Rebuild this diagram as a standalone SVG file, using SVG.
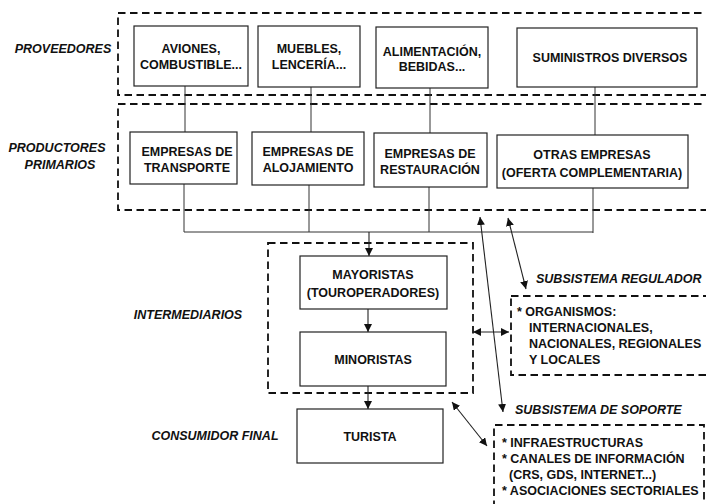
<svg xmlns="http://www.w3.org/2000/svg" width="706" height="504" viewBox="0 0 706 504">
<defs>
<marker id="ah" viewBox="0 0 10 10" refX="10" refY="5" markerWidth="8" markerHeight="8" markerUnits="userSpaceOnUse" orient="auto-start-reverse">
<path d="M0,0 L10,5 L0,10 z" fill="#111"/>
</marker>
<style>
.box{fill:#fff;stroke:#222;stroke-width:1.2}
.dash{fill:none;stroke:#111;stroke-width:1.8;stroke-dasharray:7.5 4.5}
.ln{fill:none;stroke:#333;stroke-width:1}
.arr{fill:none;stroke:#222;stroke-width:1.1;marker-end:url(#ah)}
.dbl{fill:none;stroke:#222;stroke-width:1.1;marker-end:url(#ah);marker-start:url(#ah)}
text{font-family:"Liberation Sans",Arial,sans-serif;font-size:12.5px;font-weight:bold;fill:#111}
.c{text-anchor:middle}
.lbl{font-style:italic}
</style>
</defs>
<rect width="706" height="504" fill="#fff"/>

<g id="groups">
<rect class="dash" x="118" y="13" width="620" height="82"/>
<rect class="dash" x="118" y="104" width="620" height="106"/>
<rect class="dash" x="268" y="243" width="205" height="150"/>
<rect class="dash" x="511" y="296" width="220" height="79"/>
<path class="dash" d="M494,520 V425 H704 V520"/>
</g>

<g id="labels">
<text class="lbl c" x="63" y="53">PROVEEDORES</text>
<text class="lbl c" x="57" y="152">PRODUCTORES</text>
<text class="lbl c" x="60" y="169">PRIMARIOS</text>
<text class="lbl c" x="188" y="319">INTERMEDIARIOS</text>
<text class="lbl c" x="215" y="440">CONSUMIDOR FINAL</text>
<text class="lbl" x="536" y="283">SUBSISTEMA REGULADOR</text>
<text class="lbl" x="515" y="414">SUBSISTEMA DE SOPORTE</text>
</g>

<g id="connectors">
<path class="ln" d="M185,86 V132 M311,87 V132 M430,88 V133 M595,87 V135"/>
<path class="ln" d="M184,184 V232 M309,185 V232 M429,187 V232 M593,188 V233 M184,232 H593"/>
<path class="arr" d="M369,232 V256"/>
<path class="arr" d="M368,309 V332"/>
<path class="arr" d="M368,386 V409"/>
<path class="dbl" d="M452,402 L487,446"/>
<path class="dbl" d="M473,332 L509,332"/>
<path class="dbl" d="M508,218 L526,289"/>
<path class="dbl" d="M480,217 L503,412"/>
</g>

<g id="n-aviones">
<rect class="box" x="134" y="26" width="114" height="60"/>
<text class="c" x="191" y="53">AVIONES,</text>
<text class="c" x="191" y="69">COMBUSTIBLE...</text>
</g>
<g id="n-muebles">
<rect class="box" x="258" y="26" width="102" height="61"/>
<text class="c" x="309" y="53">MUEBLES,</text>
<text class="c" x="309" y="69">LENCERÍA...</text>
</g>
<g id="n-alimentacion">
<rect class="box" x="376" y="27" width="112" height="61"/>
<text class="c" x="432" y="56">ALIMENTACIÓN,</text>
<text class="c" x="432" y="71">BEBIDAS...</text>
</g>
<g id="n-suministros">
<rect class="box" x="517" y="28" width="180" height="59"/>
<text class="c" x="610" y="62">SUMINISTROS DIVERSOS</text>
</g>

<g id="n-transporte">
<rect class="box" x="130" y="132" width="107" height="52"/>
<text class="c" x="187" y="156">EMPRESAS DE</text>
<text class="c" x="187" y="172">TRANSPORTE</text>
</g>
<g id="n-alojamiento">
<rect class="box" x="252" y="132" width="112" height="53"/>
<text class="c" x="308" y="156">EMPRESAS DE</text>
<text class="c" x="308" y="172">ALOJAMIENTO</text>
</g>
<g id="n-restauracion">
<rect class="box" x="374" y="133" width="113" height="54"/>
<text class="c" x="430" y="158">EMPRESAS DE</text>
<text class="c" x="430" y="174">RESTAURACIÓN</text>
</g>
<g id="n-otras">
<rect class="box" x="497" y="135" width="191" height="53"/>
<text class="c" x="592" y="159">OTRAS EMPRESAS</text>
<text class="c" x="592" y="177">(OFERTA COMPLEMENTARIA)</text>
</g>

<g id="n-mayoristas">
<rect class="box" x="300" y="256" width="147" height="53"/>
<text class="c" x="373" y="279">MAYORISTAS</text>
<text class="c" x="373" y="297">(TOUROPERADORES)</text>
</g>
<g id="n-minoristas">
<rect class="box" x="300" y="332" width="146" height="54"/>
<text class="c" x="373" y="364">MINORISTAS</text>
</g>
<g id="n-turista">
<rect class="box" x="297" y="409" width="146" height="54"/>
<text class="c" x="370" y="441">TURISTA</text>
</g>

<g id="n-regulador">
<text x="517" y="316">* ORGANISMOS:</text>
<text x="529" y="332">INTERNACIONALES,</text>
<text x="529" y="348">NACIONALES, REGIONALES</text>
<text x="529" y="364">Y LOCALES</text>
</g>
<g id="n-soporte">
<text x="502" y="447">* INFRAESTRUCTURAS</text>
<text x="502" y="463">* CANALES DE INFORMACIÓN</text>
<text x="509" y="479">(CRS, GDS, INTERNET...)</text>
<text x="502" y="495">* ASOCIACIONES SECTORIALES</text>
</g>
</svg>
